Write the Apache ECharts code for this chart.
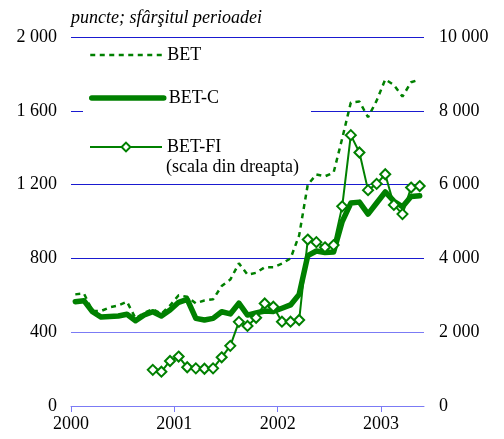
<!DOCTYPE html>
<html><head><meta charset="utf-8">
<script src="https://cdn.jsdelivr.net/npm/echarts@6/dist/echarts.min.js"></script>
<style>html,body{margin:0;padding:0;background:#fff}#c{width:504px;height:439px}</style>
</head><body><div id="c"></div>
<script>
// Month index 0 = Jan 2000 ... 40 = May 2003 (end-of-period values)
const yearLabels = ['2000', '2001', '2002', '2003'];
const leftTicks = [0, 400, 800, 1200, 1600, 2000];
const rightTicks = [0, 2000, 4000, 6000, 8000, 10000];
const betValues = [605, 610, 515, 515, 535, 545, 565, 475, 505, 525, 500, 545, 600, 592,
  557, 572, 578, 650, 685, 773, 712, 722, 752, 752, 772, 800, 925, 1200, 1255, 1245, 1265,
  1450, 1645, 1650, 1565, 1655, 1770, 1740, 1677, 1755, 1770];
const betCValues = [565, 571, 511, 482, 485, 488, 497, 462, 493, 511, 488, 520, 562, 578,
  475, 466, 475, 511, 499, 557, 493, 505, 515, 512, 530, 548, 605, 815, 840, 832, 835,
  1000, 1100, 1105, 1040, 1100, 1160, 1110, 1080, 1135, 1140];
const betFiValues = [null, null, null, null, null, null, null, null, null, 980, 930, 1220, 1340, 1050,
  1020, 1010, 1020, 1320, 1630, 2280, 2170, 2390, 2780, 2690, 2285, 2285, 2330, 4510, 4440, 4300, 4360,
  5410, 7340, 6870, 5850, 6020, 6280, 5450, 5200, 5920, 5960];

const green = '#008000';
const font = '"Liberation Serif", "Times New Roman", serif';
const fmt = v => String(v).replace(/\B(?=(\d{3})+(?!\d))/g, ' ');
const toPairs = arr => arr.map((v, i) => v == null ? null : [i + 0.5, v]).filter(p => p);

const chart = echarts.init(document.getElementById('c'), null, {renderer: 'canvas'});
const legendBase = {
  orient: 'horizontal', selectedMode: false, padding: 0, itemGap: 0,
  itemWidth: 72, itemHeight: 11,
  lineStyle: {width: 'inherit'},
  textStyle: {fontFamily: font, fontSize: 18, color: '#000'}
};
chart.setOption({
  animation: false,
  backgroundColor: '#fff',
  title: {
    text: 'puncte; sfârşitul perioadei', left: 71, top: 9, padding: 0,
    textStyle: {fontFamily: font, fontSize: 18, fontStyle: 'italic', fontWeight: 'normal', color: '#000'}
  },
  grid: {left: 71, right: 80, top: 37, bottom: 33, containLabel: false},
  xAxis: {
    type: 'value', min: 0, max: yearLabels.length * 12 - 7, interval: 12,
    axisLine: {show: true, lineStyle: {color: '#7b7bf5', width: 1}},
    axisTick: {show: true, length: 6, lineStyle: {color: '#7b7bf5'}, customValues: yearLabels.map((y, i) => i * 12)},
    axisLabel: {
      customValues: yearLabels.map((y, i) => i * 12),
      formatter: v => yearLabels[Math.round(v / 12)] || '',
      fontFamily: font, fontSize: 18, color: '#000', margin: 9
    },
    splitLine: {show: false}
  },
  yAxis: [{
    type: 'value', min: leftTicks[0], max: leftTicks[leftTicks.length - 1], interval: 400,
    axisLine: {show: false}, axisTick: {show: false},
    axisLabel: {formatter: fmt, fontFamily: font, fontSize: 18, color: '#000', margin: 14},
    splitLine: {show: true, lineStyle: {width: 1, color: ['#7b7bf5', '#7b7bf5', '#1a1ad0', '#1a1ad0', '#1a1ad0', '#1a1ad0']}}
  }, {
    type: 'value', min: rightTicks[0], max: rightTicks[rightTicks.length - 1], interval: 2000,
    axisLine: {show: false}, axisTick: {show: false},
    axisLabel: {formatter: fmt, fontFamily: font, fontSize: 18, color: '#000', margin: 15},
    splitLine: {show: false}
  }],
  legend: [
    Object.assign({}, legendBase, {data: ['BET'], left: 89, top: 46, itemStyle: {opacity: 0}}),
    Object.assign({}, legendBase, {data: ['BET-C'], left: 89, top: 89, itemStyle: {opacity: 0}}),
    Object.assign({}, legendBase, {data: ['BET-FI'], left: 89, top: 138})
  ],
  graphic: [
    {type: 'rect', z: 1, shape: {x: 83, y: 42, width: 228, height: 138}, style: {fill: '#fff'}},
    {type: 'text', z: 10, x: 166, y: 167, style: {text: '(scala din dreapta)', font: '18px ' + font, fill: '#000', textVerticalAlign: 'middle'}}
  ],
  series: [{
    name: 'BET', type: 'line', yAxisIndex: 0, data: toPairs(betValues),
    symbol: 'none', showSymbol: false, z: 3,
    lineStyle: {color: green, width: 2.5, type: [5, 4.5]}, itemStyle: {color: green}
  }, {
    name: 'BET-C', type: 'line', yAxisIndex: 0, data: toPairs(betCValues),
    symbol: 'none', showSymbol: false, z: 4,
    lineStyle: {color: green, width: 5.5, join: 'round', cap: 'round'}, itemStyle: {color: green}
  }, {
    name: 'BET-FI', type: 'line', yAxisIndex: 1, data: toPairs(betFiValues),
    symbol: 'emptyDiamond', symbolSize: 10, showSymbol: true, z: 5,
    lineStyle: {color: green, width: 2}, itemStyle: {color: green, borderWidth: 2}
  }]
});
</script></body></html>
